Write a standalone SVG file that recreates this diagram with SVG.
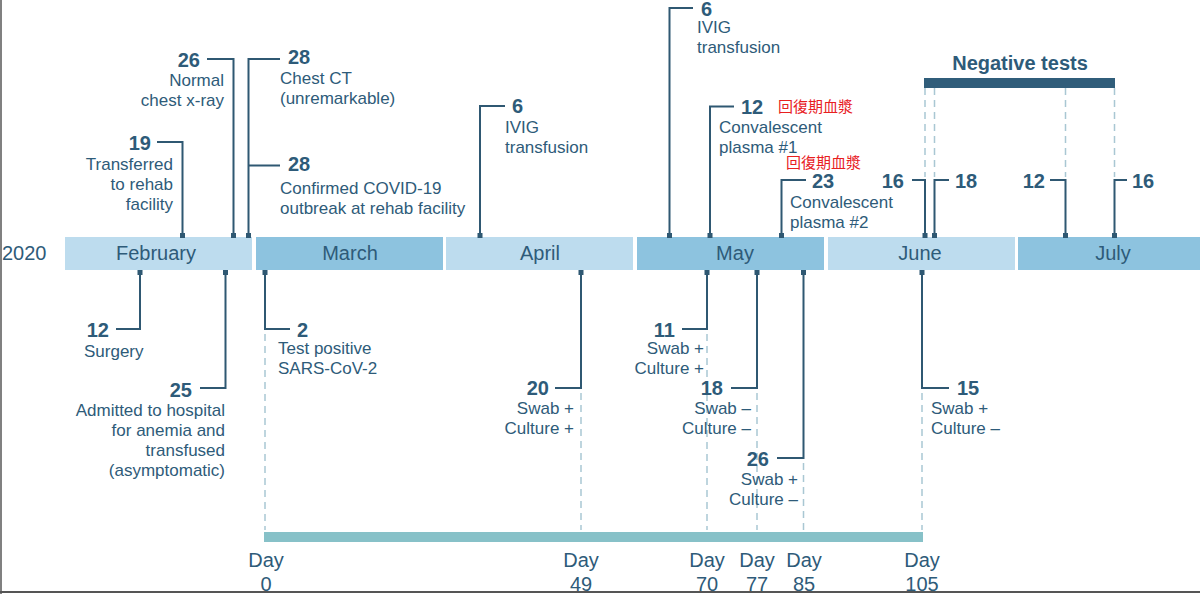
<svg xmlns="http://www.w3.org/2000/svg" width="1200" height="594" viewBox="0 0 1200 594">
<style>
text{font-family:"Liberation Sans",Arial,sans-serif;fill:#2e5b79}
.t{font-size:17px}
.n{font-size:20px;font-weight:bold}
.m{font-size:20px;text-anchor:middle}
.e{text-anchor:end}
.c{text-anchor:middle}
.cjk{font-family:"Noto Sans CJK TC","Noto Sans CJK SC",sans-serif;font-size:15px;fill:#e8201f}
.lt{fill:#bddcee}
.dk{fill:#8dc3df}
.ln{fill:none;stroke:#2f5872;stroke-width:2}
.ds{fill:none;stroke:#a9c7d3;stroke-width:1.5;stroke-dasharray:7 5}
.sq{fill:#2f5872}
.d{font-size:20px;text-anchor:middle}
</style>
<rect width="1200" height="594" fill="#ffffff"/>

<g id="months">
<text x="2" y="260" style="font-size:20px">2020</text>
<g id="feb"><rect class="lt" x="65" y="237" width="187" height="33"/><text class="m" x="156" y="260">February</text></g>
<g id="mar"><rect class="dk" x="256" y="237" width="187" height="33"/><text class="m" x="350" y="260">March</text></g>
<g id="apr"><rect class="lt" x="446" y="237" width="187" height="33"/><text class="m" x="540" y="260">April</text></g>
<g id="may"><rect class="dk" x="637" y="237" width="187" height="33"/><text class="m" x="735" y="260">May</text></g>
<g id="jun"><rect class="lt" x="828" y="237" width="187" height="33"/><text class="m" x="920" y="260">June</text></g>
<g id="jul"><rect class="dk" x="1018" y="237" width="187" height="33"/><text class="m" x="1113" y="260">July</text></g>
</g>

<g id="connectors">
<path class="ds" d="M925,88V177M934.5,88V177M1065.5,88V177M1114.5,88V177"/>
<path class="ds" d="M265,334V530M581,393V530M707,334V530M757,393V530M803.5,463V530M922,393V530"/>
<path class="ln" d="M157,142H182.5V237"/>
<path class="ln" d="M207,59H233.5V237"/>
<path class="ln" d="M280,59H248.5V237M248.5,165.5H280"/>
<path class="ln" d="M505,106H480V237"/>
<path class="ln" d="M693,8H669.5V237"/>
<path class="ln" d="M734,106.5H710V237"/>
<path class="ln" d="M806,180H781.5V237"/>
<path class="ln" d="M912,180H925V237"/>
<path class="ln" d="M949,180H934.5V237"/>
<path class="ln" d="M1050,180H1065.5V237"/>
<path class="ln" d="M1127,180H1114.5V237"/>
<path class="ln" d="M140,270V329H116"/>
<path class="ln" d="M225.5,270V388H200"/>
<path class="ln" d="M265,270V329H290"/>
<path class="ln" d="M581,270V388H555"/>
<path class="ln" d="M707,270V329H682"/>
<path class="ln" d="M757,270V388H731"/>
<path class="ln" d="M803.5,270V458H777"/>
<path class="ln" d="M922,270V388H949"/>
<g class="sq">
<rect x="180" y="233" width="5" height="5"/>
<rect x="231" y="233" width="5" height="5"/>
<rect x="246" y="233" width="5" height="5"/>
<rect x="477.5" y="233" width="5" height="5"/>
<rect x="667" y="233" width="5" height="5"/>
<rect x="707.5" y="233" width="5" height="5"/>
<rect x="779" y="233" width="5" height="5"/>
<rect x="922.5" y="233" width="5" height="5"/>
<rect x="932" y="233" width="5" height="5"/>
<rect x="1063" y="233" width="5" height="5"/>
<rect x="1112" y="233" width="5" height="5"/>
<rect x="137.5" y="270" width="5" height="5"/>
<rect x="223" y="270" width="5" height="5"/>
<rect x="262.5" y="270" width="5" height="5"/>
<rect x="578.5" y="270" width="5" height="5"/>
<rect x="704.5" y="270" width="5" height="5"/>
<rect x="754.5" y="270" width="5" height="5"/>
<rect x="801" y="270" width="5" height="5"/>
<rect x="919.5" y="270" width="5" height="5"/>
</g>
</g>

<g id="feb19"><text class="n e" x="151" y="150">19</text><text class="t e" x="173" y="170">Transferred</text><text class="t e" x="173" y="190">to rehab</text><text class="t e" x="173" y="210">facility</text></g>
<g id="feb26"><text class="n e" x="200" y="67">26</text><text class="t e" x="224" y="86">Normal</text><text class="t e" x="224" y="106">chest x-ray</text></g>
<g id="feb28a"><text class="n" x="288" y="64">28</text><text class="t" x="280" y="84">Chest CT</text><text class="t" x="280" y="104">(unremarkable)</text></g>
<g id="feb28b"><text class="n" x="288" y="171">28</text><text class="t" x="280" y="194">Confirmed COVID-19</text><text class="t" x="280" y="214">outbreak at rehab facility</text></g>
<g id="apr6"><text class="n" x="512" y="113">6</text><text class="t" x="505" y="133">IVIG</text><text class="t" x="505" y="153">transfusion</text></g>
<g id="may6"><text class="n" x="701" y="16">6</text><text class="t" x="697" y="33">IVIG</text><text class="t" x="697" y="53">transfusion</text></g>
<g id="may12"><text class="n" x="741" y="114">12</text><text class="cjk" x="778" y="112">回復期血漿</text><text class="t" x="719" y="133">Convalescent</text><text class="t" x="719" y="153">plasma #1</text></g>
<g id="may23"><text class="cjk" x="786" y="168">回復期血漿</text><text class="n" x="812" y="188">23</text><text class="t" x="790" y="208">Convalescent</text><text class="t" x="790" y="228">plasma #2</text></g>
<g id="negative">
<text class="n c" x="1020" y="70">Negative tests</text>
<rect x="924" y="78" width="191" height="10" fill="#305d7a"/>
</g>
<g id="jun16"><text class="n e" x="904" y="188">16</text></g>
<g id="jun18"><text class="n" x="955" y="188">18</text></g>
<g id="jul12"><text class="n e" x="1045" y="188">12</text></g>
<g id="jul16"><text class="n" x="1132" y="188">16</text></g>

<g id="feb12"><text class="n e" x="109" y="337">12</text><text class="t" x="84" y="357">Surgery</text></g>
<g id="feb25"><text class="n e" x="192" y="397">25</text><text class="t e" x="225" y="416">Admitted to hospital</text><text class="t e" x="225" y="436">for anemia and</text><text class="t e" x="225" y="456">transfused</text><text class="t e" x="225" y="476">(asymptomatic)</text></g>
<g id="mar2"><text class="n" x="297" y="337">2</text><text class="t" x="278" y="354">Test positive</text><text class="t" x="278" y="374">SARS-CoV-2</text></g>
<g id="apr20"><text class="n e" x="549" y="395">20</text><text class="t e" x="574" y="414">Swab +</text><text class="t e" x="574" y="434">Culture +</text></g>
<g id="may11"><text class="n e" x="675" y="337">11</text><text class="t e" x="704" y="354">Swab +</text><text class="t e" x="704" y="374">Culture +</text></g>
<g id="may18"><text class="n e" x="723" y="395">18</text><text class="t e" x="751" y="414">Swab –</text><text class="t e" x="751" y="434">Culture –</text></g>
<g id="may26"><text class="n e" x="769" y="466">26</text><text class="t e" x="798" y="485">Swab +</text><text class="t e" x="798" y="505">Culture –</text></g>
<g id="jun15"><text class="n" x="957" y="395">15</text><text class="t" x="931" y="414">Swab +</text><text class="t" x="931" y="434">Culture –</text></g>

<g id="days">
<rect x="264" y="532" width="659" height="10" fill="#87c1c8"/>
<text class="d" x="266" y="567">Day</text><text class="d" x="266" y="591">0</text>
<text class="d" x="581" y="567">Day</text><text class="d" x="581" y="591">49</text>
<text class="d" x="707" y="567">Day</text><text class="d" x="707" y="591">70</text>
<text class="d" x="757" y="567">Day</text><text class="d" x="757" y="591">77</text>
<text class="d" x="804" y="567">Day</text><text class="d" x="804" y="591">85</text>
<text class="d" x="922" y="567">Day</text><text class="d" x="922" y="591">105</text>
</g>

<g id="frame">
<line x1="1" y1="0" x2="1" y2="594" stroke="#808080" stroke-width="2"/>
<line x1="0" y1="592" x2="1200" y2="592" stroke="#555555" stroke-width="2"/>
</g>
</svg>
